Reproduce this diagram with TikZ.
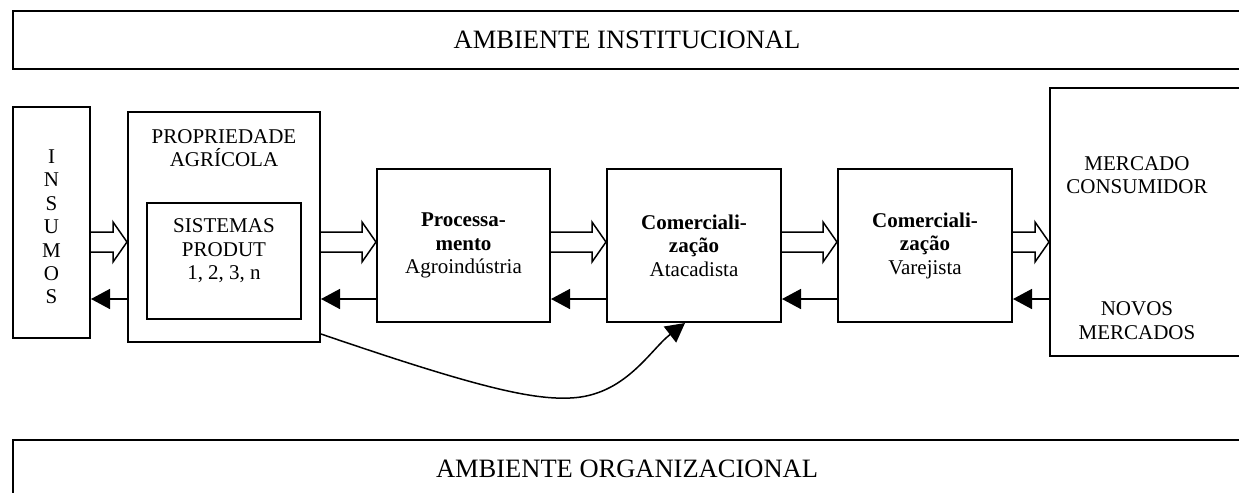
\documentclass[tikz,border=0pt]{standalone}
\usepackage{fontspec}
\setmainfont{Liberation Serif}
\usetikzlibrary{arrows.meta,calc}
\begin{document}
\begin{tikzpicture}[x=0.5pt,y=-0.5pt,line join=miter,>={Triangle[length=9.5pt,width=10pt]}]
            \tikzset{box/.style={draw,line width=1pt,inner sep=0pt},
                txt/.style={align=center,font=\fontsize{10.5}{11.75}\selectfont},
                ambtxt/.style={font=\fontsize{13.25}{15}\selectfont},
                hollow/.style={line width=0.75pt},
                back/.style={line width=0.75pt,->}}
            \useasboundingbox (0,0) rectangle (1239,493);
            \clip (0,0) rectangle (1239,493);
            % ambientes
            \node[box,ambtxt,minimum width=614pt,minimum height=29pt] (inst) at (627,40) {AMBIENTE INSTITUCIONAL};
            \node[box,ambtxt,minimum width=614pt,minimum height=29pt] (org) at (627,469) {AMBIENTE ORGANIZACIONAL};
            % cadeia
            \node[box,minimum width=38.5pt,minimum height=115.5pt] (ins) at (51.5,222.5) {};
            \node[txt,font=\fontsize{10.5}{11.7}\selectfont] (inslet) at (51.5,227) {I\\N\\S\\U\\M\\O\\S};
            \node[box,minimum width=96pt,minimum height=115pt] (prop) at (224,227) {};
            \node[txt] (propt) at (224,148) {PROPRIEDADE\\AGRÍCOLA};
            \node[box,minimum width=77pt,minimum height=58pt] (sis) at (224,261) {};
            \node[txt] (sist) at (224,251) {SISTEMAS\\PRODUT\\1, 2, 3, n};
            \node[box,txt,minimum width=86.5pt,minimum height=76.5pt] (proc) at (463.5,245.5) {\textbf{Processa-}\\\textbf{mento}\\Agroindústria};
            \node[box,txt,minimum width=87pt,minimum height=76.5pt] (atac) at (694,245.5) {\textbf{Comerciali-}\\\textbf{zação}\\Atacadista};
            \node[box,txt,minimum width=87pt,minimum height=76.5pt] (varej) at (925,245.5) {\textbf{Comerciali-}\\\textbf{zação}\\Varejista};
            \node[box,minimum width=97.5pt,minimum height=134pt] (merc) at (1147.5,222) {};
            \node[txt] (merct) at (1137,175) {MERCADO\\CONSUMIDOR};
            \node[txt] (novt) at (1137,320.5) {NOVOS\\MERCADOS};
            % setas
            \foreach \a/\b in {ins/prop,prop/proc,proc/atac,atac/varej,varej/merc}{
                \draw[hollow] let \p1=(\a.east), \p2=(\b.west) in
                    (\x1,-116pt) -- (\x2-7pt,-116pt) -- (\x2-7pt,-111pt) -- (\x2,-121pt)
                    -- (\x2-7pt,-131pt) -- (\x2-7pt,-126pt) -- (\x1,-126pt);
                \draw[back] let \p1=(\a.east), \p2=(\b.west) in (\x2,-149.5pt) -- (\x1,-149.5pt);
            }
            \draw[back] ([yshift=4.5pt]prop.south east) .. controls (470,385) and (530,400) .. (570,398)
                .. controls (625,396) and (650,350) .. ([xshift=-4.5pt]atac.south);
        \end{tikzpicture}
\end{document}
